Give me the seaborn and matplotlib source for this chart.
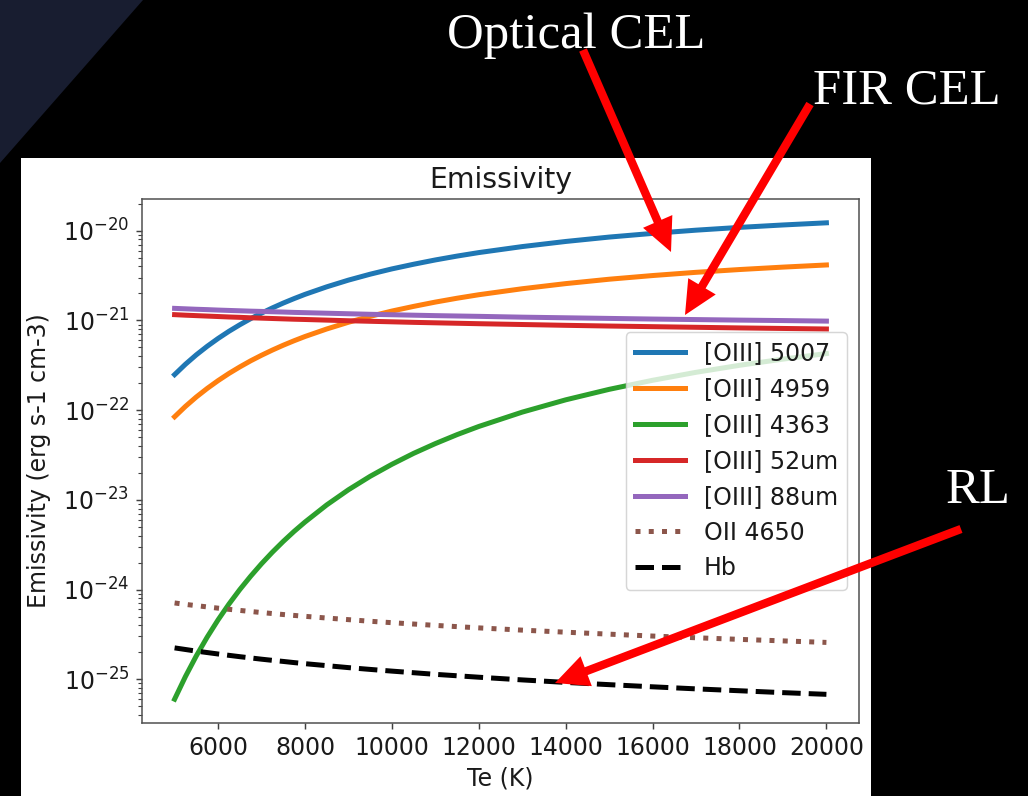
import numpy as np
import pandas as pd
import matplotlib
matplotlib.use("Agg")
import matplotlib.pyplot as plt
from matplotlib.patches import Polygon, Rectangle, FancyArrowPatch
from matplotlib.ticker import FixedLocator
import seaborn as sns

# Electron temperature grid (K)
temperature = [5000, 5250, 5500, 5750, 6000, 6250, 6500, 6750, 7000, 7250,
               7500, 7750, 8000, 8500, 9000, 9500, 10000, 10500, 11000, 11500,
               12000, 13000, 14000, 15000, 16000, 17000, 18000, 19000, 20000]

# log10 emissivity (erg s-1 cm-3) of each line
log_oiii_5007 = [-21.604, -21.488, -21.383, -21.288, -21.201, -21.121, -21.048,
                 -20.980, -20.918, -20.860, -20.806, -20.756, -20.709, -20.625,
                 -20.550, -20.484, -20.425, -20.373, -20.325, -20.282, -20.243,
                 -20.176, -20.119, -20.070, -20.029, -19.993, -19.962, -19.935,
                 -19.911]
log_oiii_4959 = [-22.074, -21.958, -21.853, -21.758, -21.671, -21.591, -21.518,
                 -21.450, -21.388, -21.330, -21.276, -21.226, -21.179, -21.095,
                 -21.020, -20.954, -20.895, -20.843, -20.795, -20.752, -20.713,
                 -20.646, -20.589, -20.540, -20.499, -20.463, -20.432, -20.405,
                 -20.381]
log_oiii_4363 = [-25.223, -24.970, -24.740, -24.531, -24.339, -24.163, -24.001,
                 -23.852, -23.713, -23.584, -23.464, -23.352, -23.248, -23.057,
                 -22.888, -22.738, -22.604, -22.482, -22.373, -22.273, -22.182,
                 -22.022, -21.885, -21.768, -21.667, -21.578, -21.500, -21.431,
                 -21.369]
log_oiii_52um = [-20.935, -20.941, -20.946, -20.951, -20.956, -20.961, -20.965,
                 -20.970, -20.974, -20.978, -20.982, -20.986, -20.989, -20.996,
                 -21.003, -21.009, -21.015, -21.021, -21.026, -21.031, -21.036,
                 -21.045, -21.054, -21.062, -21.069, -21.076, -21.083, -21.089,
                 -21.095]
log_oiii_88um = [-20.865, -20.870, -20.875, -20.879, -20.884, -20.888, -20.892,
                 -20.896, -20.899, -20.903, -20.906, -20.910, -20.913, -20.919,
                 -20.925, -20.931, -20.936, -20.941, -20.946, -20.950, -20.954,
                 -20.963, -20.970, -20.977, -20.984, -20.990, -20.996, -21.001,
                 -21.007]
log_oii_4650 = [-24.150, -24.166, -24.180, -24.194, -24.208, -24.221, -24.233,
                -24.245, -24.257, -24.268, -24.279, -24.289, -24.299, -24.318,
                -24.336, -24.354, -24.370, -24.385, -24.400, -24.414, -24.428,
                -24.453, -24.476, -24.498, -24.519, -24.538, -24.556, -24.573,
                -24.590]
log_hbeta = [-24.651, -24.669, -24.687, -24.703, -24.719, -24.734, -24.749,
             -24.763, -24.777, -24.790, -24.802, -24.815, -24.827, -24.849,
             -24.871, -24.891, -24.910, -24.928, -24.946, -24.962, -24.978,
             -25.008, -25.036, -25.061, -25.085, -25.108, -25.129, -25.150,
             -25.169]

series_labels = ["[OIII] 5007", "[OIII] 4959", "[OIII] 4363", "[OIII] 52um",
                 "[OIII] 88um", "OII 4650", "Hb"]
series_logs = [log_oiii_5007, log_oiii_4959, log_oiii_4363, log_oiii_52um,
               log_oiii_88um, log_oii_4650, log_hbeta]
series_colors = ["#1f77b4", "#ff7f0e", "#2ca02c", "#d62728", "#9467bd",
                 "#8c564b", "black"]
series_styles = ["-", "-", "-", "-", "-", ":", "--"]

x_ticks = [6000, 8000, 10000, 12000, 14000, 16000, 18000, 20000]

W, H = 1028, 796
plt.rcParams.update({
    "font.family": ["DejaVu Sans"],
    "font.size": 17,
    "text.color": "#1a1a1a",
    "axes.labelcolor": "#1a1a1a",
    "xtick.color": "#404040",
    "ytick.color": "#404040",
    "xtick.labelcolor": "#1a1a1a",
    "ytick.labelcolor": "#1a1a1a",
    "xtick.major.size": 4.6,
    "ytick.major.size": 4.6,
    "ytick.minor.size": 2.6,
    "xtick.major.width": 1.06,
    "ytick.major.width": 1.06,
    "ytick.minor.width": 0.8,
    "xtick.major.pad": 4.6,
    "ytick.major.pad": 4.6,
})

fig = plt.figure(figsize=(W / 100, H / 100), dpi=100, facecolor="black")


def fx(px):
    return px / W


def fy(py):
    return 1 - py / H


# slide decoration: navy corner and white panel behind the chart
fig.add_artist(Polygon([[0, 1], [fx(143), 1], [0, fy(163)]], closed=True,
                       transform=fig.transFigure, facecolor="#181d30",
                       edgecolor="none", zorder=-2))
fig.add_artist(Rectangle((fx(21), 0), fx(871) - fx(21), fy(158),
                         transform=fig.transFigure, facecolor="white",
                         edgecolor="none", zorder=-1))

ax = fig.add_axes([fx(142), fy(723), fx(859) - fx(142), fy(199) - fy(723)])
ax.set_zorder(1)
ax.set_facecolor("white")

for lab, vals, col, ls in zip(series_labels, series_logs, series_colors, series_styles):
    df = pd.DataFrame({"Te": temperature, "emis": np.power(10.0, vals)})
    sns.lineplot(data=df, x="Te", y="emis", ax=ax, color=col, linestyle=ls,
                 linewidth=3.6, label=lab)

ax.set_yscale("log")
ax.xaxis.set_major_locator(FixedLocator(x_ticks))
ax.set_title("Emissivity", fontsize=20.4, pad=8)
ax.set_xlabel("Te (K)", fontsize=17, labelpad=5)
ax.set_ylabel("Emissivity (erg s-1 cm-3)", fontsize=17, labelpad=9)
for sp in ax.spines.values():
    sp.set_color("#505050")
    sp.set_linewidth(1.1)

leg = ax.legend(loc="center right", fontsize=17, handlelength=2.1)
leg.get_frame().set_linewidth(1.06)

# slide annotations
serif = ["Liberation Serif", "DejaVu Serif"]
fig.text(fx(447), fy(48), "Optical CEL", family=serif, fontsize=36.5,
         color="white", ha="left", va="baseline", zorder=5)
fig.text(fx(813), fy(104), "FIR CEL", family=serif, fontsize=36.5,
         color="white", ha="left", va="baseline", zorder=5)
fig.text(fx(946), fy(503), "RL", family=serif, fontsize=36.5,
         color="white", ha="left", va="baseline", zorder=5)

arrows = [((583, 50), (671, 252)),
          ((810, 104), (685, 315)),
          ((961, 529), (555, 683))]
for (x0, y0), (x1, y1) in arrows:
    arr = FancyArrowPatch((fx(x0), fy(y0)), (fx(x1), fy(y1)),
                          transform=fig.transFigure,
                          arrowstyle="simple,head_length=2.4,head_width=2.3,tail_width=0.6",
                          mutation_scale=10, facecolor="#ff0000",
                          edgecolor="none", linewidth=0, zorder=10,
                          shrinkA=0, shrinkB=0)
    fig.add_artist(arr)

fig.savefig("out.png", dpi=100, facecolor="black")
